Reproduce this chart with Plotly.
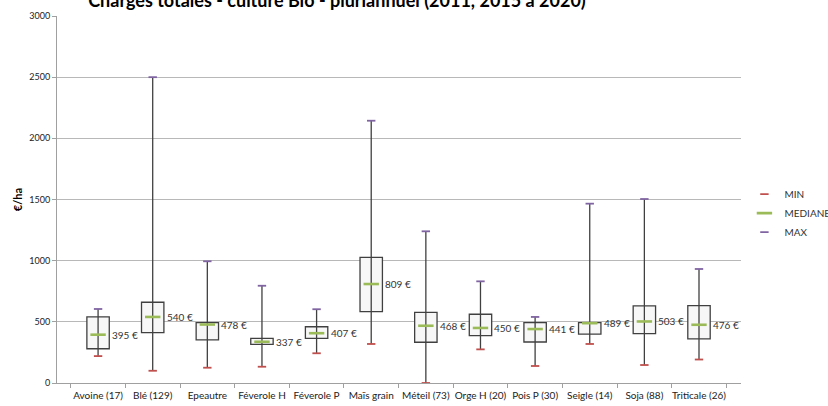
import plotly.graph_objects as go

categories = ["Avoine (17)", "Blé (129)", "Epeautre", "Féverole H", "Féverole P", "Maïs grain",
              "Méteil (73)", "Orge H (20)", "Pois P (30)", "Seigle (14)", "Soja (88)", "Triticale (26)"]
mins =    [220, 100, 125, 133, 243, 319,    0, 275, 139, 319, 147, 192]
q1 =      [280, 411, 352, 316, 365, 583,  333, 387, 335, 400, 403, 360]
medians = [395, 540, 478, 337, 407, 809,  468, 450, 441, 489, 503, 476]
q3 =      [540, 660, 493, 365, 460, 1027, 578, 562, 493, 493, 630, 632]
maxs =    [605, 2500, 995, 795, 603, 2144, 1240, 831, 540, 1466, 1504, 932]

FONT = "Lato"
DARK = "#404040"

fig = go.Figure()

# whiskers (min to max)
wx, wy = [], []
for c, lo, hi in zip(categories, mins, maxs):
    wx += [c, c, None]
    wy += [lo, hi, None]
fig.add_trace(go.Scatter(x=wx, y=wy, mode="lines", line=dict(color=DARK, width=1.3),
                         showlegend=False, hoverinfo="skip"))

# boxes (q1 to q3)
fig.add_trace(go.Bar(x=categories, y=[b - a for a, b in zip(q1, q3)], base=q1,
                     marker=dict(color="#f7f7f7", line=dict(color=DARK, width=1.3)),
                     showlegend=False, hoverinfo="skip"))

fig.add_trace(go.Scatter(x=categories, y=mins, mode="markers", name="MIN",
                         marker=dict(symbol="line-ew", size=6, line=dict(color="#c0504d", width=1.8))))
fig.add_trace(go.Scatter(x=categories, y=medians, mode="markers", name="MEDIANE",
                         marker=dict(symbol="line-ew", size=11, line=dict(color="#9bbb59", width=2.6))))
fig.add_trace(go.Scatter(x=categories, y=maxs, mode="markers", name="MAX",
                         marker=dict(symbol="line-ew", size=6, line=dict(color="#8064a2", width=1.8))))

for c, m in zip(categories, medians):
    fig.add_annotation(x=c, y=m, text=f"{m} €", showarrow=False, xanchor="left", xshift=12,
                       font=dict(family=FONT, size=10, color="#333333"))

fig.update_layout(
    width=828, height=406,
    margin=dict(l=57, r=87, t=16, b=23, autoexpand=False),
    paper_bgcolor="white", plot_bgcolor="white",
    bargap=0.59,
    title=dict(text="<b>Charges totales - culture Bio - pluriannuel (2011, 2015 à 2020)</b>",
               x=0.407, xanchor="center", y=0.999, yanchor="middle", yref="container",
               font=dict(family=FONT, size=18, color="#000000")),
    legend=dict(x=1.005, xanchor="left", y=0.463, yanchor="middle",
                font=dict(family=FONT, size=10, color="#333333"),
                itemwidth=30, tracegroupgap=7, bgcolor="rgba(0,0,0,0)"),
    font=dict(family=FONT, size=10, color="#333333"),
)
fig.update_xaxes(type="category", showline=True, linecolor="#a0a0a0", linewidth=1,
                 ticks="outside", tickson="boundaries", ticklen=4, tickcolor="#a0a0a0",
                 showgrid=False, tickangle=0, ticklabelstandoff=3,
                 tickfont=dict(family=FONT, size=10, color="#222222"))
fig.update_yaxes(range=[0, 3000], dtick=500, showline=True, linecolor="#a0a0a0", linewidth=1,
                 ticks="outside", ticklen=4, tickcolor="#a0a0a0",
                 showgrid=True, gridcolor="#b8b8b8", gridwidth=1, zeroline=False,
                 tickfont=dict(family=FONT, size=9, color="#222222"),
                 title=dict(text="<b>€/ha</b>", standoff=4, font=dict(family=FONT, size=11, color="#000000")))

fig.write_html("out.html", config={"displayModeBar": False},
               post_script="document.body.style.margin='0px';")
